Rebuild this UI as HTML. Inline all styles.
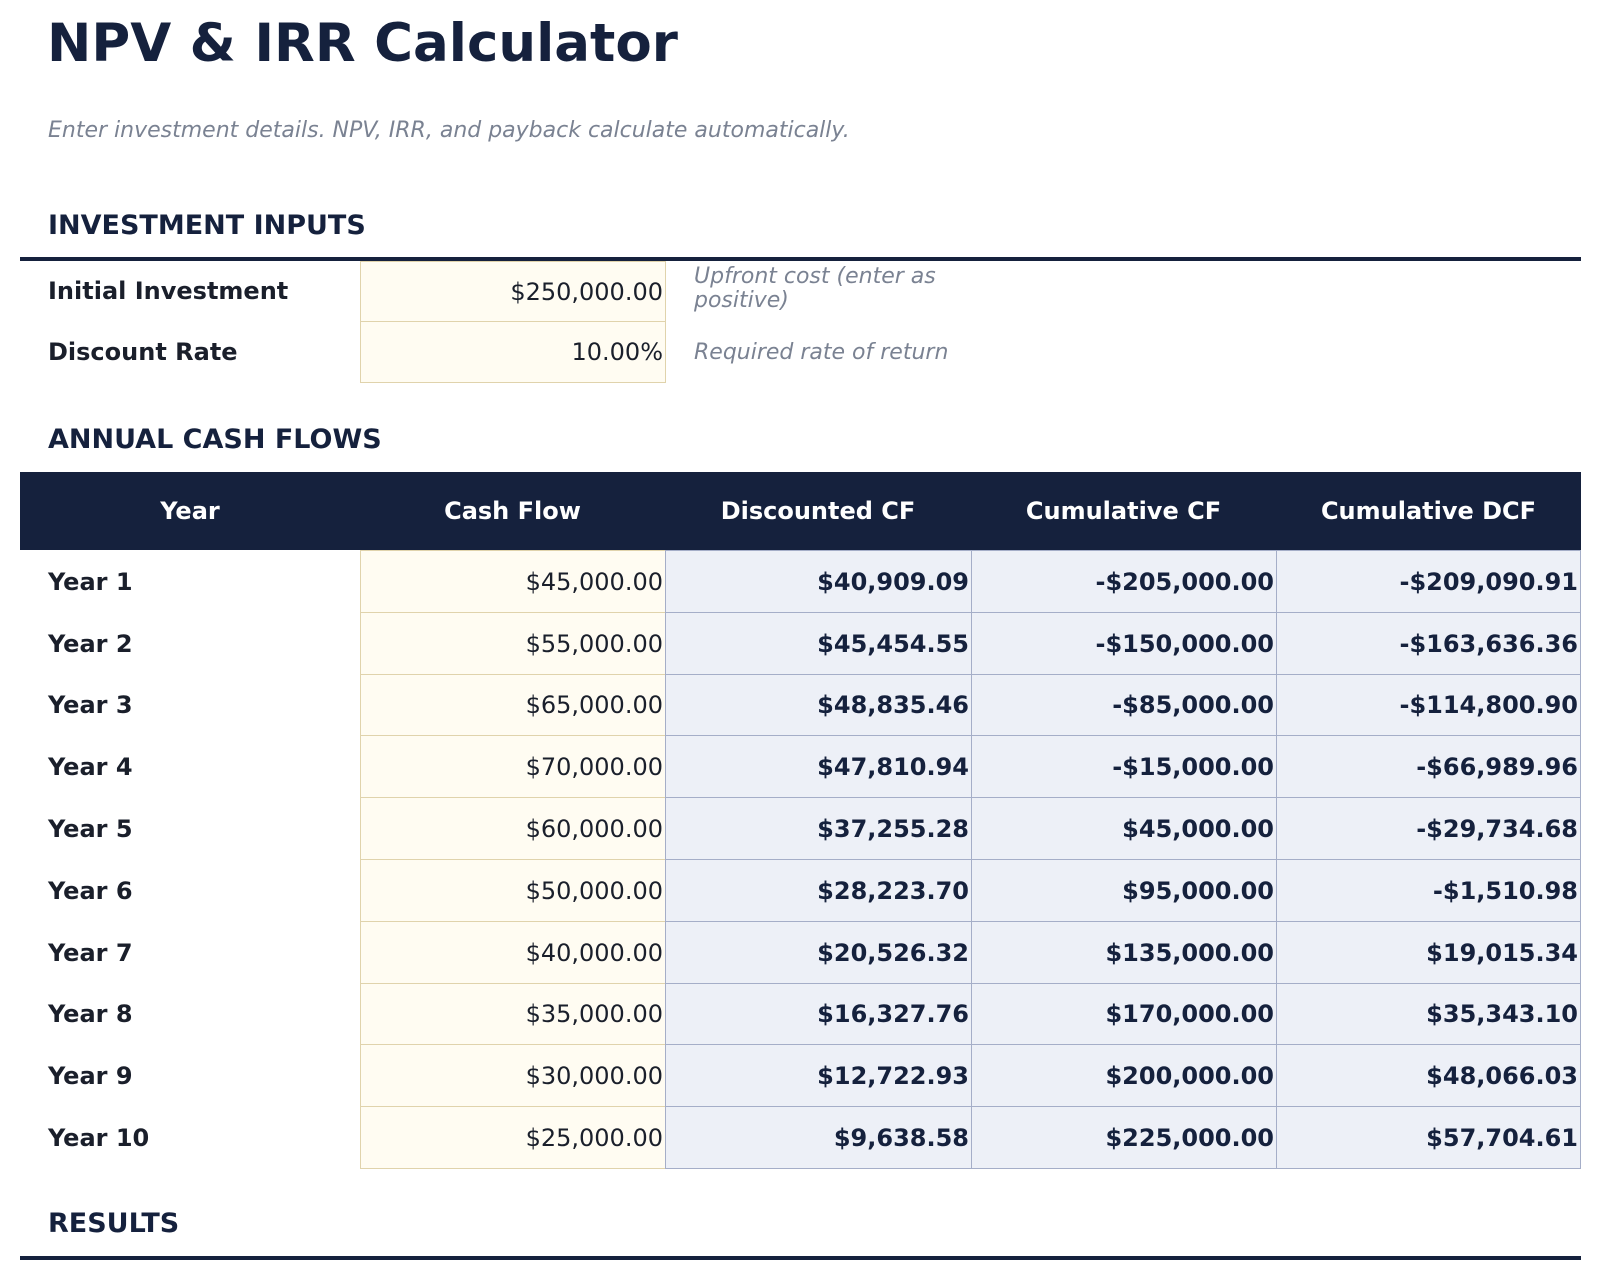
<!DOCTYPE html>
<html><head><meta charset="utf-8"><style>
*{margin:0;padding:0;box-sizing:border-box}
body{width:1602px;height:1281px;background:#fff;font-family:"DejaVu Sans","Liberation Sans",sans-serif;color:#1a1f2b;position:relative;overflow:hidden}
.a{position:absolute;white-space:nowrap}
h1{position:absolute;left:47px;top:14px;height:60px;line-height:60px;font-size:53px;font-weight:bold;color:#15213d}
.sub{left:48px;top:117px;line-height:28px;font-size:22px;font-style:italic;color:#7a8292}
.sec{left:48px;font-size:27px;line-height:30px;font-weight:bold;color:#15213d}
.bar{position:absolute;left:20px;width:1561px;height:4px;background:#15213d}
.lab{left:48px;font-size:24px;font-weight:bold;display:flex;align-items:center}
.in{position:absolute;background:#fffcf2;border:1px solid #e0d3ac;font-size:24px;padding-right:2px;display:flex;align-items:center;justify-content:flex-end}
.cc{position:absolute;background:#edf0f7;border:1px solid #a5aec8;font-size:24px;font-weight:bold;color:#15213d;display:flex;align-items:center;justify-content:flex-end;padding-right:2px}
.note{font-size:22px;font-style:italic;color:#7a8292;line-height:24px}
.hd{position:absolute;top:472px;height:78px;background:#15213d;color:#fff;font-weight:bold;font-size:24px;display:flex;align-items:center;justify-content:center}
</style></head><body>
<h1>NPV &amp; IRR Calculator</h1>
<div class="a sub">Enter investment details. NPV, IRR, and payback calculate automatically.</div>
<div class="a sec" style="top:211px">INVESTMENT INPUTS</div>
<div class="bar" style="top:257px"></div>
<div class="in" style="left:360px;top:261px;width:306px;height:61px">$250,000.00</div>
<div class="in" style="left:360px;top:321px;width:306px;height:62px">10.00%</div>
<div class="a lab" style="top:261px;height:60px">Initial Investment</div>
<div class="a lab" style="top:321px;height:62px">Discount Rate</div>
<div class="a note" style="left:694px;top:265px">Upfront cost (enter as<br>positive)</div>
<div class="a note" style="left:694px;top:341px">Required rate of return</div>
<div class="a sec" style="top:425px">ANNUAL CASH FLOWS</div>
<div class="hd" style="left:20px;width:340px">Year</div>
<div class="hd" style="left:360px;width:305px">Cash Flow</div>
<div class="hd" style="left:665px;width:306px">Discounted CF</div>
<div class="hd" style="left:971px;width:305px">Cumulative CF</div>
<div class="hd" style="left:1276px;width:305px">Cumulative DCF</div>
<div id="rows"></div>
<div class="a sec" style="top:1209px">RESULTS</div>
<div class="bar" style="top:1256px"></div>
<script>
var d=[["$45,000.00","$40,909.09","-$205,000.00","-$209,090.91"],["$55,000.00","$45,454.55","-$150,000.00","-$163,636.36"],["$65,000.00","$48,835.46","-$85,000.00","-$114,800.90"],["$70,000.00","$47,810.94","-$15,000.00","-$66,989.96"],["$60,000.00","$37,255.28","$45,000.00","-$29,734.68"],["$50,000.00","$28,223.70","$95,000.00","-$1,510.98"],["$40,000.00","$20,526.32","$135,000.00","$19,015.34"],["$35,000.00","$16,327.76","$170,000.00","$35,343.10"],["$30,000.00","$12,722.93","$200,000.00","$48,066.03"],["$25,000.00","$9,638.58","$225,000.00","$57,704.61"]];
var h="";for(var i=0;i<10;i++){var t=Math.round(550+i*61.8),b=Math.round(550+(i+1)*61.8)+1,hh=b-t;
h+='<div class="a lab" style="top:'+t+'px;height:'+hh+'px">Year '+(i+1)+'</div>';
h+='<div class="in" style="left:360px;top:'+t+'px;width:306px;height:'+hh+'px">'+d[i][0]+'</div>';
var L=[665,971,1276],W=[307,306,305];
for(var j=0;j<3;j++)h+='<div class="cc" style="left:'+L[j]+'px;top:'+t+'px;width:'+W[j]+'px;height:'+hh+'px">'+d[i][j+1]+'</div>';}
document.getElementById("rows").innerHTML=h;
</script>
</body></html>
